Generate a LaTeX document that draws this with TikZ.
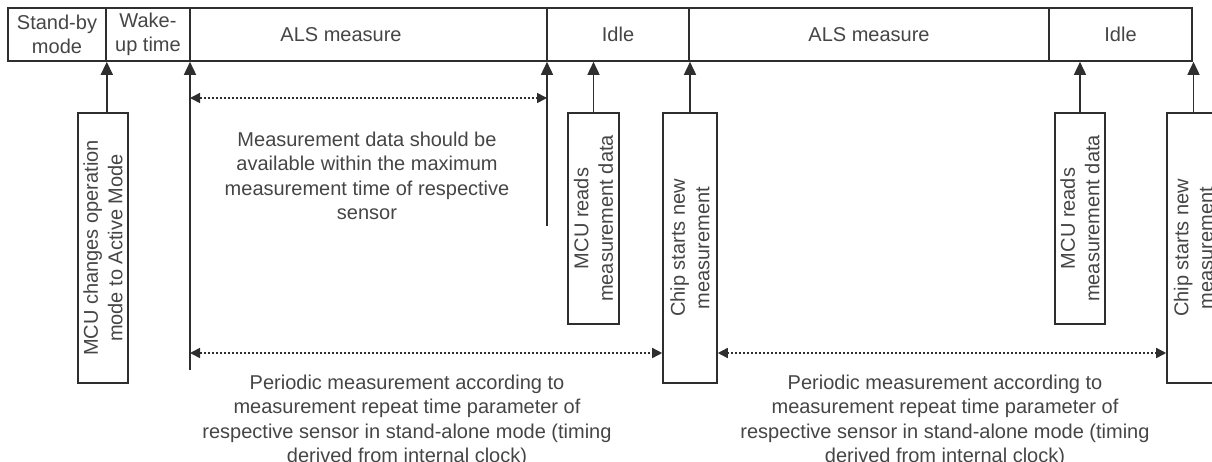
\documentclass[tikz,border=0pt]{standalone}
\usepackage{fontspec}
\setmainfont{Liberation Sans}
\usetikzlibrary{arrows.meta}
\definecolor{linec}{gray}{0.18}
\definecolor{txtc}{gray}{0.27}

\begin{document}
\begin{tikzpicture}[x = 1pt, y = -1pt, every node/.style = {font = \fontsize{20}{24.5}\selectfont, text = txtc},
	phase/.style = {draw = linec, line width = 1.6pt, minimum height = 53pt, inner sep = 0pt, align = center},
	event/.style = {draw = linec, line width = 1.6pt, rotate = 90, inner sep = 0pt, align = center},
	trig/.style = {draw = linec, line width = 1.6pt, -{Triangle[length = 13pt, width = 12pt]}},
	span/.style = {draw = linec, line width = 1.6pt, dash pattern = on 2pt off 2pt, {Triangle[length = 10pt, width = 10pt]}-{Triangle[length = 10pt, width = 10pt]}},
	note/.style = {align = center}]

	\useasboundingbox (0, 0) rectangle (1212, 461);
	\clip (0, 0) rectangle (1212, 461);

	\node (standby) at (  57, 34.5) [phase, minimum width = 98pt]  {Stand-by\\mode};
	\node (wakeup)  at ( 148, 34.5) [phase, minimum width = 84pt]  {Wake-\\up time};
	\node (als1)    at (368.5, 34.5) [phase, minimum width = 357pt] {};
	\node (idle1)   at ( 618, 34.5) [phase, minimum width = 142pt] {Idle};
	\node (als2)    at ( 869, 34.5) [phase, minimum width = 360pt] {ALS measure};
	\node (idle2)   at (1120.5, 34.5) [phase, minimum width = 143pt] {Idle};
	\node (alslbl)  at ( 341, 34.5) {ALS measure};

	\node (mcuchg) at ( 103, 248)   [event, minimum width = 270pt, minimum height = 50pt] {MCU changes operation\\mode to Active Mode};
	\node (read1)  at (593.5, 218.5) [event, minimum width = 211pt, minimum height = 51pt] {MCU reads\\measurement data};
	\node (chip1)  at ( 690, 248)   [event, minimum width = 270pt, minimum height = 54pt] {Chip starts new\\measurement};
	\node (read2)  at (1080, 218.5) [event, minimum width = 211pt, minimum height = 50pt] {MCU reads\\measurement data};
	\node (chip2)  at (1193.5, 248) [event, minimum width = 270pt, minimum height = 53pt] {Chip starts new\\measurement};

	\coordinate (mstart) at (190, 370);
	\coordinate (mend)   at (547, 226);
	\coordinate (avail)  at (190, 98);
	\coordinate (period) at (190, 353);

	\draw [trig] (mcuchg.east -| standby.south east) -- (standby.south east);
	\draw [trig] (mstart) -- (mstart |- als1.south);
	\draw [trig] (mend) -- (mend |- als1.south);
	\foreach \evt/\phs in {read1/idle1, chip1/idle1, read2/idle2, chip2/idle2}
		\draw [trig] (\evt.east) -- (\evt.east |- \phs.south);

	\draw [span] (avail) -- (avail -| mend);
	\draw [span] (period) -- (period -| chip1.north);
	\draw [span] (period -| chip1.south) -- (period -| chip2.north);

	\node (availtxt) at (367, 176) [note] {Measurement data should be\\available within the maximum\\measurement time of respective\\sensor};
	\node (pertxt1) at (407, 421) [note] {Periodic measurement according to\\measurement repeat time parameter of\\respective sensor in stand-alone mode (timing\\derived from internal clock)};
	\node (pertxt2) at (945, 421) [note] {Periodic measurement according to\\measurement repeat time parameter of\\respective sensor in stand-alone mode (timing\\derived from internal clock)};
\end{tikzpicture}
\end{document}
